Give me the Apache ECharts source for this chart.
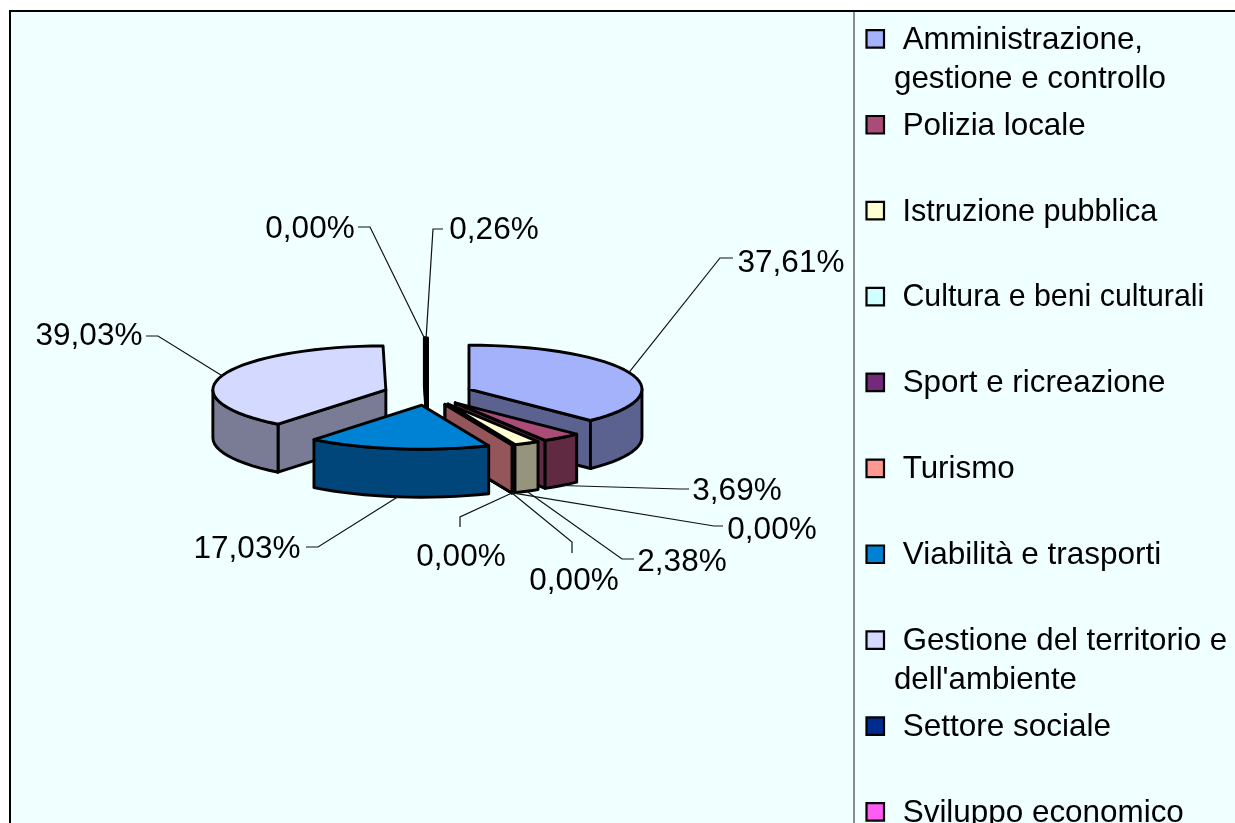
<!DOCTYPE html>
<html>
<head>
<meta charset="utf-8">
<style>html,body{margin:0;padding:0;background:#fff;overflow:hidden}#c{width:1235px;height:823px}</style>
<script src="https://cdn.jsdelivr.net/npm/echarts@6/dist/echarts.min.js"></script>
</head>
<body>
<div id="c"></div>
<script>
// ---- data ----
const categories = ["Amministrazione,\ngestione e controllo","Polizia locale","Istruzione pubblica","Cultura e beni culturali","Sport e ricreazione","Turismo","Viabilità e trasporti","Gestione del territorio e\ndell'ambiente","Settore sociale","Sviluppo economico"];
const values = [37.61,3.69,2.38,0,0,0,17.03,39.03,0,0.26];
const topColors = ["#A4B2FB","#A94D78","#FFFFD2","#CFFFFF","#742A7A","#FF9890","#0082D4","#D3D9FF","#002C90","#FF5CF4"];
const sideColors = ["#5B6290","#5F2A42","#96947C","#7C9999","#451848","#94565A","#00467A","#7A7C96","#001A55","#992F90"];
// back-to-front painting order (indices into categories)
const drawOrder = [7,8,9,0,1,2,3,4,5,6];

// ---- layout of the 3D pie ----
const C = {x:427.9,y:393.6,rx:173,ry:44,ex:44.4,ey:11.7,depth:48};
// leader elbow and label centre for each category
const leaderElbows = [[[720,258],[733,258]],[[680,489],[689,489]],[[622,559],[634,559]],[[714,526],[723,526]],[[572,542],[572,553]],[[460,517],[460,527]],[[318,547],[306,547]],[[158,336],[146,336]],[[370,227],[358,227]],[[433,229],[443,229]]];
const labelCentres = [[791,263.5],[737,491.5],[682,562.5],[772,530.5],[574,581.5],[461,557.5],[247,549.5],[89,336.5],[310,229.5],[494,230.5]];
const legendTextFit = [0.995,0.995,0.97,0.963,0.994,0.995,1,0.991,1,0.997];
const FONT = '"Liberation Sans", Arial, sans-serif';
const FS = 31.5;

const total = values.reduce((a,b)=>a+b,0);
const slices = [];
let acc = 0;
values.forEach((v,i)=>{
  const a0 = acc/total*360; acc += v; const a1 = acc/total*360;
  slices.push({a0,a1,mid:(a0+a1)/2});
});
const rad = d=>d*Math.PI/180;
function apex(s){return [C.x+C.ex*Math.sin(rad(s.mid)), C.y-C.ey*Math.cos(rad(s.mid))];}
function rim(s,a){const p=apex(s);return [p[0]+C.rx*Math.sin(rad(a)), p[1]-C.ry*Math.cos(rad(a))];}
function arcPts(s,a,b){const n=Math.max(1,Math.ceil(Math.abs(b-a)/4));const o=[];for(let k=0;k<=n;k++)o.push(rim(s,a+(b-a)*k/n));return o;}
const down = p=>[p[0],p[1]+C.depth];
const stroke = {stroke:'#000',lineWidth:2.9,lineJoin:'round'};

function sliceShapes(i){
  const s=slices[i], out=[], p=apex(s);
  const side=sideColors[i], top=topColors[i];
  const quad=(a)=>{const r=rim(s,a);out.push({type:'polygon',shape:{points:[p,r,down(r),down(p)]},style:Object.assign({fill:side},stroke)});};
  if(s.a0>=180&&s.a0<360) quad(s.a0);
  if(s.a1>0&&s.a1<=180) quad(s.a1);
  const f0=Math.max(s.a0,90), f1=Math.min(s.a1,270);
  if(f1>f0){const t=arcPts(s,f0,f1);out.push({type:'polygon',shape:{points:t.concat(t.slice().reverse().map(down))},style:Object.assign({fill:side},stroke)});}
  out.push({type:'polygon',shape:{points:[p].concat(arcPts(s,s.a0,s.a1))},style:Object.assign({fill:top},stroke)});
  return out;
}

const fmt = v=>v.toFixed(2).replace('.',',')+'%';

const series = drawOrder.map(i=>({
  type:'custom',name:categories[i],coordinateSystem:'none',silent:true,animation:false,z:10,
  data:[[values[i]]],
  renderItem:()=>({type:'group',children:sliceShapes(i)})
}));

// data labels with leader lines
series.push({
  type:'custom',name:'labels',coordinateSystem:'none',silent:true,animation:false,z:20,
  data:values.map((v,i)=>[v,i]),
  renderItem:(params,api)=>{
    const i=api.value(1), s=slices[i];
    const front=s.mid>90&&s.mid<270;
    const st=rim(s,s.mid), start=front?down(st):st;
    return {type:'group',children:[
      {type:'polyline',shape:{points:[start].concat(leaderElbows[i])},style:{fill:null,stroke:'#111',lineWidth:1.2}},
      {type:'text',style:{text:fmt(api.value(0)),x:labelCentres[i][0],y:labelCentres[i][1],align:'center',verticalAlign:'middle',fontFamily:FONT,fontSize:FS,fill:'#000'}}
    ]};
  }
});

// legend column
series.push({
  type:'custom',name:'legend',coordinateSystem:'none',silent:true,animation:false,z:20,
  data:categories.map((c,i)=>[i]),
  renderItem:(params,api)=>{
    const i=api.value(0), cy=38.6+85.9*i;
    return {type:'group',children:[
      {type:'rect',shape:{x:866.5,y:cy-8.5,width:17.5,height:17.5},style:{fill:topColors[i],stroke:'#000',lineWidth:2.2}},
      {type:'text',scaleX:legendTextFit[i],originX:894,originY:cy,style:{text:' '+categories[i],x:894,y:cy-18,align:'left',verticalAlign:'top',lineHeight:39,fontFamily:FONT,fontSize:FS,fill:'#000'}}
    ]};
  }
});

const chart = echarts.init(document.getElementById('c'),null,{renderer:'canvas',width:1235,height:823});
chart.setOption({
  animation:false,
  backgroundColor:'#fff',
  graphic:[
    {type:'rect',z:1,shape:{x:9,y:10,width:1226,height:813},style:{fill:'#F0FFFF'}},
    {type:'line',z:2,shape:{x1:9,y1:11,x2:1235,y2:11},style:{stroke:'#000',lineWidth:2}},
    {type:'line',z:2,shape:{x1:10,y1:10,x2:10,y2:823},style:{stroke:'#000',lineWidth:2}},
    {type:'line',z:2,shape:{x1:854,y1:12,x2:854,y2:823},style:{stroke:'#666',lineWidth:1.5}}
  ],
  series
});
</script>
</body>
</html>
